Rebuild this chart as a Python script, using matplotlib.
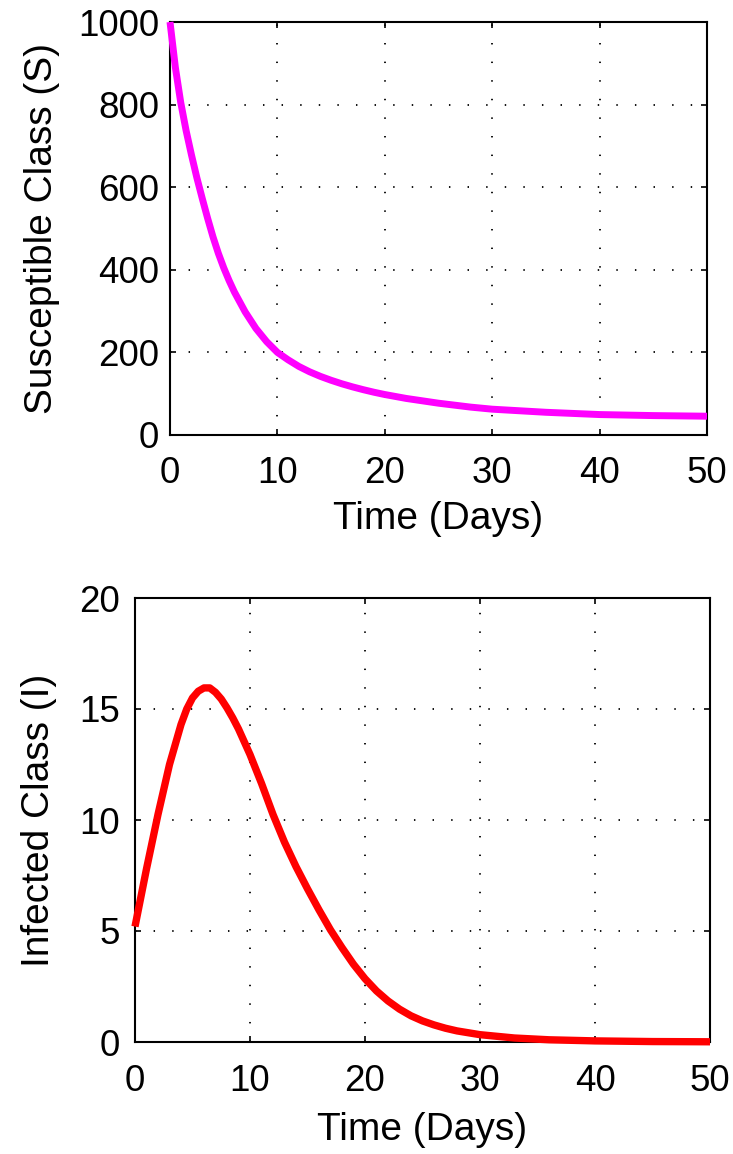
import matplotlib
matplotlib.use("Agg")
import matplotlib.pyplot as plt

plt.rcParams["font.family"] = ["Liberation Sans", "DejaVu Sans"]

# Susceptible class over time
t_s = [0, 0.5, 1, 1.5, 2, 2.5, 3, 3.5, 4, 4.5, 5, 5.5, 6, 7, 8, 9, 10, 11, 12,
       13, 14, 15, 16, 17, 18, 19, 20, 22, 25, 28, 30, 35, 40, 45, 50]
S = [1000, 890, 805, 737, 678, 623, 573, 525, 480, 440, 405, 374, 346, 298, 258,
     226, 200, 182, 166, 153, 142, 132.5, 124, 116.5, 109.7, 103.5, 98, 88.5,
     77, 67.5, 62.5, 55, 49.5, 47, 45.5]

# Infected class over time
t_i = [0, 1, 2, 3, 4, 4.5, 5, 5.5, 6, 6.5, 7, 7.5, 8, 8.5, 9, 10, 11, 12, 13,
       14, 15, 16, 17, 18, 19, 20, 21, 22, 23, 24, 25, 26, 27, 28, 30, 33, 36,
       40, 45, 50]
I = [5.2, 7.8, 10.25, 12.5, 14.3, 15.0, 15.5, 15.8, 15.95, 15.95, 15.75, 15.45,
     15.05, 14.6, 14.1, 12.95, 11.65, 10.25, 9.0, 7.9, 6.9, 5.95, 5.05, 4.25,
     3.5, 2.85, 2.3, 1.85, 1.48, 1.18, 0.95, 0.77, 0.62, 0.5, 0.33, 0.18, 0.1,
     0.05, 0.02, 0.01]

x_ticks = [0, 10, 20, 30, 40, 50]
s_ticks = [0, 200, 400, 600, 800, 1000]
i_ticks = [0, 5, 10, 15, 20]

W, H = 733, 1154
fig = plt.figure(figsize=(W / 100, H / 100), dpi=100)

ax1 = fig.add_axes([170 / W, 1 - 435 / H, 537 / W, 413 / H])
ax2 = fig.add_axes([135 / W, 1 - 1042 / H, 575 / W, 444 / H])


def style(ax, yticks, ylabel, xpad, xlabelpad, ypad, ylabelpad):
    ax.set_xlim(0, 50)
    ax.set_ylim(yticks[0], yticks[-1])
    ax.set_xticks(x_ticks)
    ax.set_yticks(yticks)
    ax.grid(True, color="black", linewidth=1.3, linestyle=(0, (0.8, 9.5)))
    ax.set_axisbelow(True)
    ax.tick_params(direction="in", length=4.5, width=1.2, top=True, right=True,
                   labelsize=26.5, colors="black")
    ax.tick_params(axis="x", pad=xpad)
    ax.tick_params(axis="y", pad=ypad)
    for sp in ax.spines.values():
        sp.set_linewidth(1.5)
    ax.set_xlabel("Time (Days)", fontsize=28, labelpad=xlabelpad)
    ax.set_ylabel(ylabel, fontsize=28, labelpad=ylabelpad)


ax1.plot(t_s, S, color="#ff00ff", linewidth=5, solid_capstyle="butt",
         solid_joinstyle="round", clip_on=False, zorder=3)
style(ax1, s_ticks, "Susceptible Class (S)", 15, 7, 8, 13)

ax2.plot(t_i, I, color="#ff0000", linewidth=5.3, solid_capstyle="butt",
         solid_joinstyle="round", clip_on=False, zorder=3)
style(ax2, i_ticks, "Infected Class (I)", 16, 9, 11, 16)

fig.savefig("out.png", dpi=100, facecolor="white")
